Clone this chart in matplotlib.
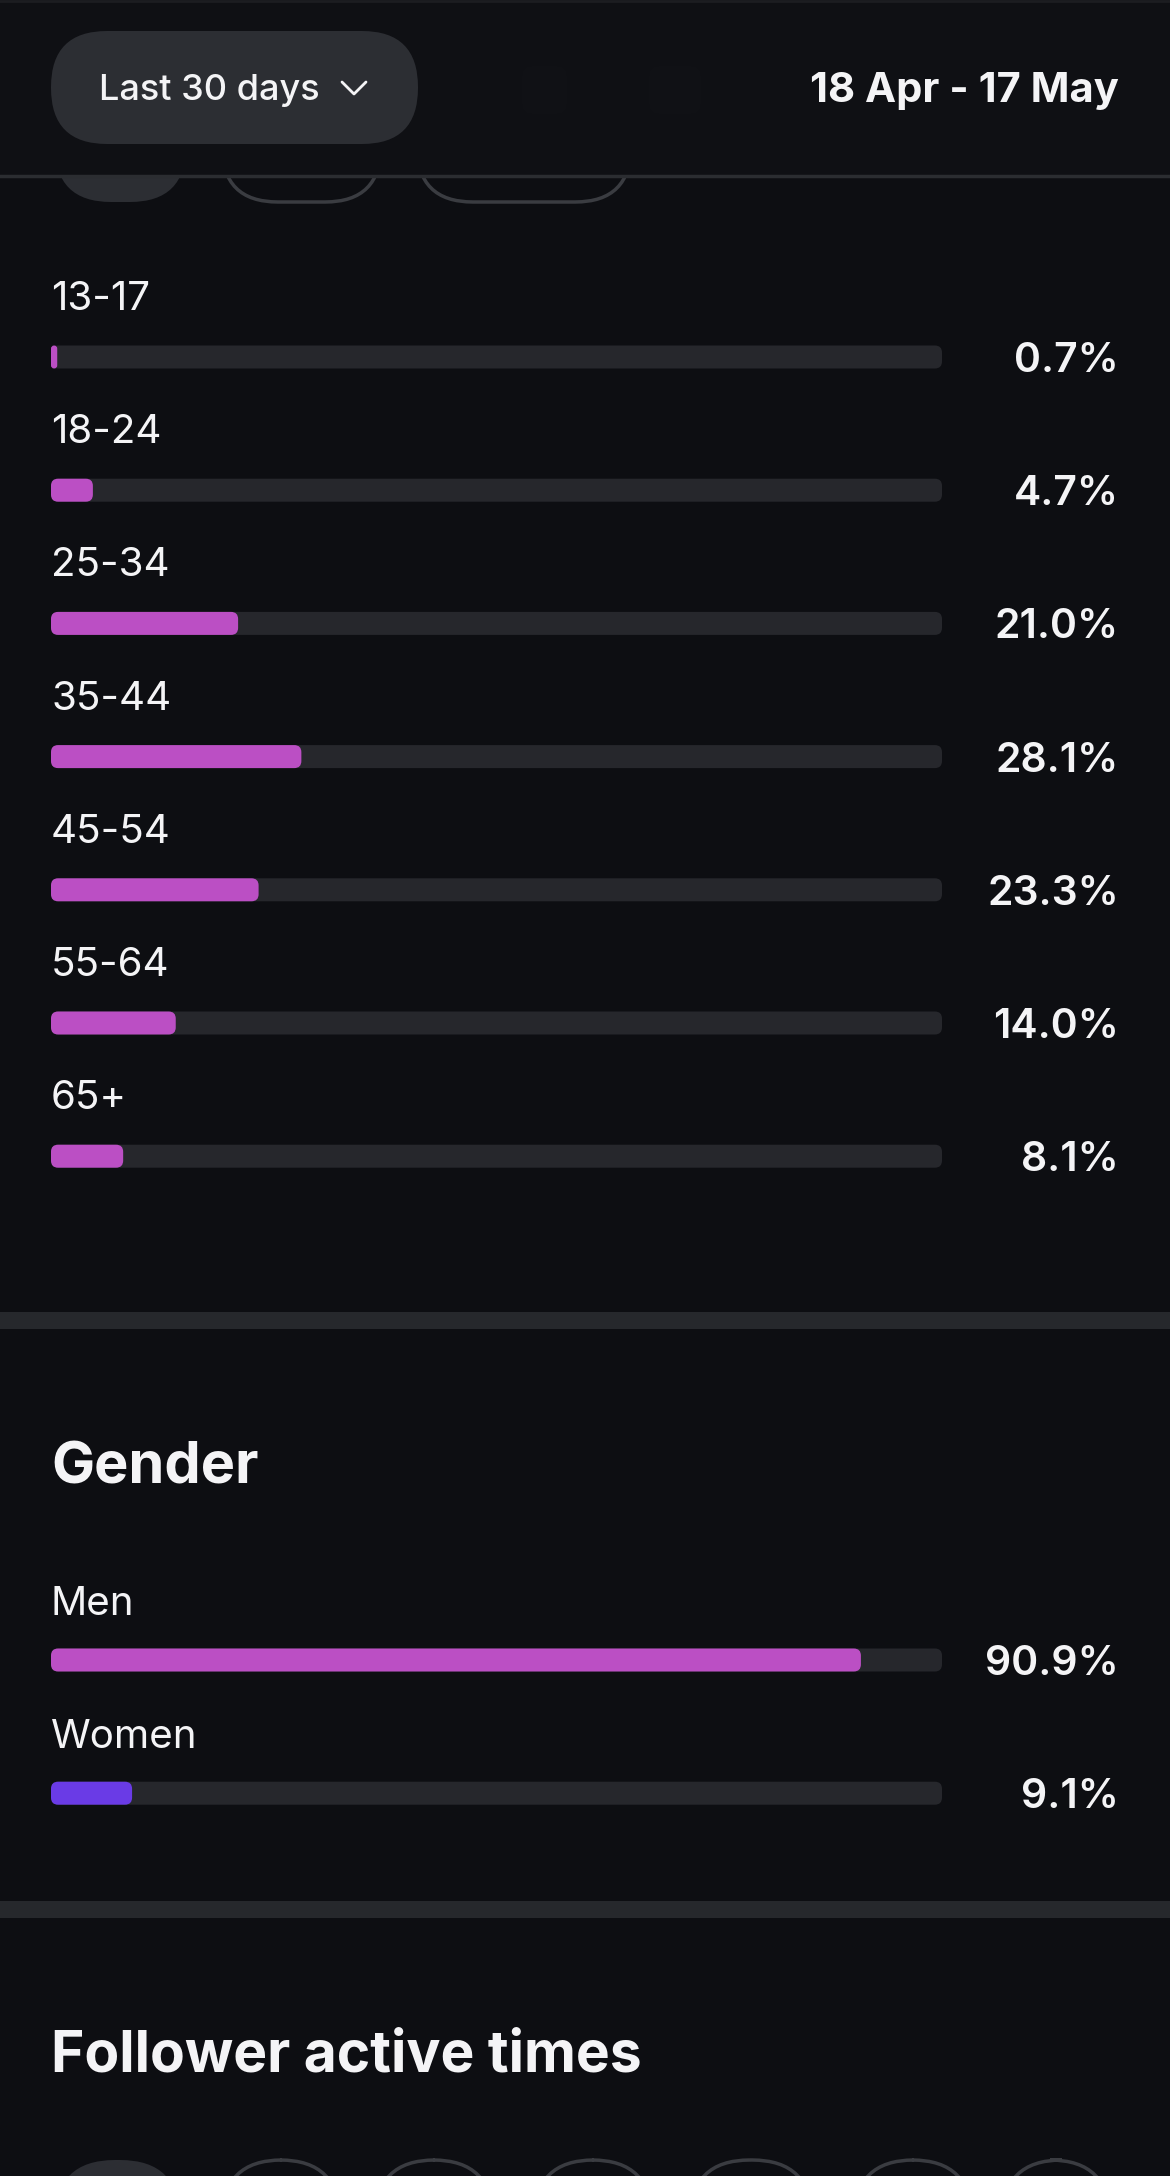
import matplotlib
matplotlib.use("Agg")
import matplotlib.pyplot as plt
from matplotlib.patches import FancyBboxPatch

plt.rcParams['font.family'] = ['Inter', 'DejaVu Sans']

# data
age_groups = ["13-17", "18-24", "25-34", "35-44", "45-54", "55-64", "65+"]
age_share = [0.7, 4.7, 21.0, 28.1, 23.3, 14.0, 8.1]

genders = ["Men", "Women"]
gender_share = [90.9, 9.1]
gender_colors = ["#bb4fc4", "#6a3be6"]

period_label = "Last 30 days"
date_range = "18 Apr - 17 May"
section_titles = ["Gender", "Follower active times"]

# style
W, H = 1170, 2176
BG = "#0d0e12"
TRACK = "#26272c"
PILL = "#2c2e33"
PILL_EDGE = "#3a3c41"
MAGENTA = "#bb4fc4"
WHITE = "#f4f4f6"

# layout, in screen pixels
track_left, track_right = 51, 942
value_right = 1119
row_step = 133.2
age_first = 357
gender_first = 1660
bar_h = 23


def rounded_barh(ax, y, widths, colors, radius=0.8, aspect=1.0):
    bars = ax.barh(y, widths, height=bar_h, left=0)
    for rect, c in zip(bars, colors):
        x0, y0 = rect.get_x(), rect.get_y()
        w, h = rect.get_width(), rect.get_height()
        r = min(radius, w / 2)
        patch = FancyBboxPatch((x0, y0), w, h,
                               boxstyle="round,pad=0,rounding_size=%f" % r,
                               mutation_aspect=aspect, linewidth=0,
                               facecolor=c, zorder=3)
        ax.add_patch(patch)
        rect.remove()


def pill(ax, x0, x1, y0, y1, filled):
    h = y1 - y0
    p = FancyBboxPatch((x0, y0), x1 - x0, h,
                       boxstyle="round,pad=0,rounding_size=%f" % (h / 2),
                       facecolor=PILL if filled else "none",
                       edgecolor="none" if filled else PILL_EDGE,
                       linewidth=2.5, zorder=1)
    ax.add_patch(p)


fig = plt.figure(figsize=(W / 100, H / 100), dpi=100)
fig.patch.set_facecolor(BG)

ax = fig.add_axes([0, 0, 1, 1])
ax.set_xlim(0, W)
ax.set_ylim(H, 0)
ax.axis("off")

# tab pills half hidden under the header
for x0, x1, filled in [(55, 186, True), (222, 381, False), (417, 631, False)]:
    pill(ax, x0, x1, 90, 202, filled)

# header
ax.add_patch(plt.Rectangle((0, 0), W, 176, facecolor="#0f1014", zorder=2))
ax.axhline(176, color="#2b2d31", lw=2.5, zorder=2)
ax.axhline(1, color="#1c1d21", lw=2, zorder=2)
ax.add_patch(FancyBboxPatch((51, 31), 367, 113,
                            boxstyle="round,pad=0,rounding_size=56",
                            facecolor=PILL, linewidth=0, zorder=3))
ax.text(99, 100, period_label, color=WHITE, fontsize=26,
        fontweight="medium", ha="left", va="baseline", zorder=4)
ax.plot([342, 354, 366], [82, 94, 82], color=WHITE, lw=2.0,
        solid_capstyle="round", solid_joinstyle="round", zorder=4)
for x0, x1 in [(522, 567), (649, 701)]:
    ax.add_patch(FancyBboxPatch((x0, 66), x1 - x0, 48,
                                boxstyle="round,pad=0,rounding_size=10",
                                facecolor="#101115", linewidth=0, zorder=3))
ax.text(value_right, 102, date_range, color=WHITE, fontsize=30,
        fontweight="bold", ha="right", va="baseline", zorder=4)

# bars share the pixel y axis, x is in percent
bx = fig.add_axes([track_left / W, 0, (track_right - track_left) / W, 1])
bx.set_xlim(0, 100)
bx.set_ylim(H, 0)
bx.axis("off")
bx.patch.set_alpha(0)
px_per_pct = (track_right - track_left) / 100.0

age_y = [age_first + i * row_step for i in range(len(age_groups))]
gender_y = [gender_first + i * row_step for i in range(len(genders))]

rounded_barh(bx, age_y, [100] * len(age_y), [TRACK] * len(age_y),
             radius=0.8, aspect=px_per_pct)
rounded_barh(bx, age_y, age_share, [MAGENTA] * len(age_y),
             radius=0.8, aspect=px_per_pct)
rounded_barh(bx, gender_y, [100] * len(gender_y), [TRACK] * len(gender_y),
             radius=0.8, aspect=px_per_pct)
rounded_barh(bx, gender_y, gender_share, gender_colors,
             radius=0.8, aspect=px_per_pct)

for lab, val, y in zip(age_groups, age_share, age_y):
    ax.text(track_left, y - 47, lab, color=WHITE, fontsize=29,
            ha="left", va="baseline")
    ax.text(value_right, y + 15, "%.1f%%" % val, color=WHITE, fontsize=29.5,
            fontweight="semibold", ha="right", va="baseline")

for lab, val, y in zip(genders, gender_share, gender_y):
    ax.text(track_left, y - 45, lab, color=WHITE, fontsize=29,
            ha="left", va="baseline")
    ax.text(value_right, y + 15, "%.1f%%" % val, color=WHITE, fontsize=29.5,
            fontweight="semibold", ha="right", va="baseline")

# section separators and titles
for y0 in [1312, 1901]:
    ax.add_patch(plt.Rectangle((0, y0), W, 17, facecolor="#26282c",
                               linewidth=0, zorder=1))
ax.text(track_left, 1484, section_titles[0], color=WHITE, fontsize=41.5,
        fontweight="bold", ha="left", va="baseline")
ax.text(track_left, 2072, section_titles[1], color=WHITE, fontsize=41,
        fontweight="bold", ha="left", va="baseline")

# day pills peeking in at the bottom
bottom_pills = [(55, 180), (222, 340), (375, 493), (534, 652),
                (690, 812), (854, 972), (1002, 1110)]
for i, (x0, x1) in enumerate(bottom_pills):
    pill(ax, x0, x1, 2160, 2280, i == 0)

fig.savefig("out.png", dpi=100, facecolor=BG)
